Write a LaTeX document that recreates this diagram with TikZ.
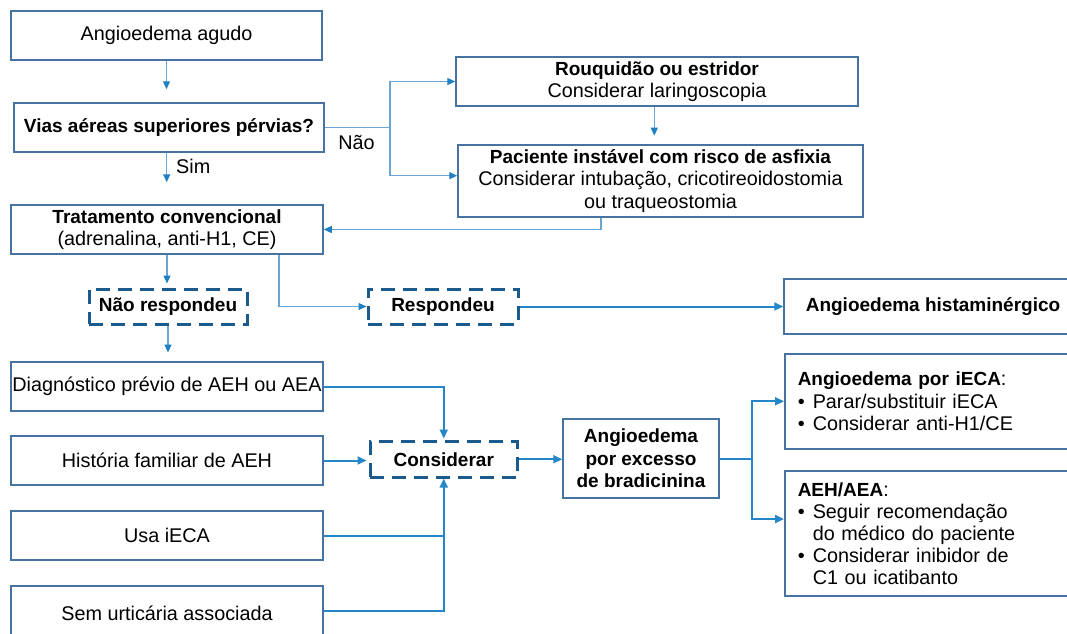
\documentclass[tikz,border=0pt]{standalone}
\usepackage{fontspec}
\setmainfont{Liberation Sans}
\usetikzlibrary{arrows.meta}
\definecolor{boxc}{HTML}{4673A0}
\definecolor{lnT}{HTML}{6AA5D8}
\definecolor{lnB}{HTML}{2387C8}
\definecolor{tipc}{HTML}{1F80C4}
\definecolor{dashc}{HTML}{1B5A8C}
\newcommand\regf{\fontsize{19.8}{22.6}\selectfont}
\newcommand\bldf{\fontsize{19}{22.6}\selectfont\bfseries}
\newcommand\bul{\makebox[15pt][l]{•}}
\begin{document}
\begin{tikzpicture}[x=1pt,y=-1pt,
  box/.style={draw=boxc,line width=1.5pt,fill=white,inner sep=0pt,align=center,font=\regf,text=black},
  dbox/.style={draw=dashc,line width=3pt,dash pattern=on 14pt off 8pt,fill=white,inner sep=0pt,font=\bldf},
  lineT/.style={draw=lnT,line width=1.3pt},
  arrT/.style={lineT,-{Triangle[length=8pt,width=7pt,color=tipc]}},
  lineB/.style={draw=lnB,line width=2pt},
  arrB/.style={lineB,-{Triangle[length=9pt,width=8pt]}},
  lbl/.style={font=\regf,inner sep=0pt}
]
\useasboundingbox (0,0) rectangle (1067,633);
\clip (0,0) rectangle (1067,633);
\fill[white] (0,0) rectangle (1067,633);

% top column
\node[box,minimum width=311pt,minimum height=49pt] (agudo) at (166.5,35.5) {Angioedema agudo};
\node[box,minimum width=310pt,minimum height=49pt,font=\bldf] (vias) at (169,127.5) {Vias aéreas superiores pérvias?};
\node[box,minimum width=312pt,minimum height=49pt] (trat) at (167,229.5) {{\bldf Tratamento convencional}\\(adrenalina, anti-H1, CE)};
\node[box,minimum width=402pt,minimum height=49pt] (rouq) at (657,81.5) {{\bldf Rouquidão ou estridor}\\Considerar laringoscopia};
\node[box,minimum width=405pt,minimum height=72pt] (pac) at (660.5,181) {{\bldf Paciente instável com risco de asfixia}\\Considerar intubação, cricotireoidostomia\\ou traqueostomia};

% dashed decision boxes
\node[dbox,minimum width=158pt,minimum height=35pt] (naoresp) at (168,306.5) {Não respondeu};
\node[dbox,minimum width=150pt,minimum height=35pt] (resp) at (443,306.5) {Respondeu};
\node[dbox,minimum width=147.5pt,minimum height=35.5pt] (consid) at (443.75,459.25) {Considerar};

\node[box,font=\bldf,minimum width=298pt,minimum height=55pt] (hist) at (933,306.5) {Angioedema histaminérgico};

% lower left column
\node[box,minimum width=312pt,minimum height=49pt] (diag) at (167,386.5) {Diagnóstico prévio de AEH ou AEA};
\node[box,minimum width=312pt,minimum height=49pt] (fam) at (167,460.5) {História familiar de AEH};
\node[box,minimum width=312pt,minimum height=49pt] (usa) at (167,535.5) {Usa iECA};
\node[box,minimum width=312pt,minimum height=54pt] (sem) at (167,613) {Sem urticária associada};

\node[box,font=\bldf,minimum width=156pt,minimum height=79pt] (brad) at (641,458.5) {Angioedema\\por excesso\\de bradicinina};

\node[box,align=left,minimum width=296pt,minimum height=95pt,text width=270pt,inner xsep=13pt,anchor=north west] (ieca) at (784,353) {{\bldf Angioedema por iECA}:\\\bul Parar/substituir iECA\\\bul Considerar anti-H1/CE};
\node[box,align=left,minimum width=296pt,minimum height=125pt,text width=270pt,inner xsep=13pt,anchor=north west,font=\fontsize{19.8}{22}\selectfont] (aeh) at (784,470) {{\bldf AEH/AEA}:\\\bul Seguir recomendação\\\hspace*{15pt}do médico do paciente\\\bul Considerar inibidor de\\\hspace*{15pt}C1 ou icatibanto};

% labels
\node[lbl,anchor=west] (sim) at (176,166) {Sim};
\node[lbl] (nao) at (356.5,142) {Não};

\coordinate (j1) at (390,127.5);
\coordinate (j2) at (751.7,458.5);

% top connectors
\draw[arrT,shorten >=13pt] (agudo.south) -- (agudo.south |- vias.north);
\draw[arrT,shorten >=22pt] ([xshift=-2.3pt]vias.south) -- ([xshift=-2.3pt]vias.south |- trat.north);
\draw[arrT,shorten >=4pt] (trat.south) -- (trat.south |- naoresp.north);
\draw[arrT,shorten >=8.7pt] (naoresp.south) -- (naoresp.south |- diag.north);
\draw[arrT] ([xshift=112pt]trat.south) |- (resp.west);
\draw[arrB] (resp.east) -- (hist.west);
\draw[lineT] (vias.east) -- (j1);
\draw[arrT] (j1) |- (rouq.west);
\draw[arrT] (j1) |- ([yshift=5.3pt]pac.west);
\draw[arrT,shorten >=8.6pt] ([xshift=-2.7pt]rouq.south) -- ([xshift=-2.7pt]rouq.south |- pac.north);
\draw[arrT] ([xshift=-59.5pt]pac.south) |- (trat.east);

% bottom connectors
\draw[arrB,shorten >=1.5pt] (diag.east) -| (consid.north);
\draw[arrB,shorten >=2pt] (fam.east) -- (fam.east -| consid.west);
\draw[lineB] (usa.east) -- (usa.east -| consid.south);
\draw[arrB] ([yshift=2pt]sem.east) -| (consid.south);
\draw[arrB] (consid.east) -- (consid.east -| brad.west);
\draw[lineB] (brad.east) -- (j2);
\draw[arrB] (j2) |- (ieca.west);
\draw[arrB] (j2) |- ([yshift=14.2pt]aeh.west);
\end{tikzpicture}
\end{document}
